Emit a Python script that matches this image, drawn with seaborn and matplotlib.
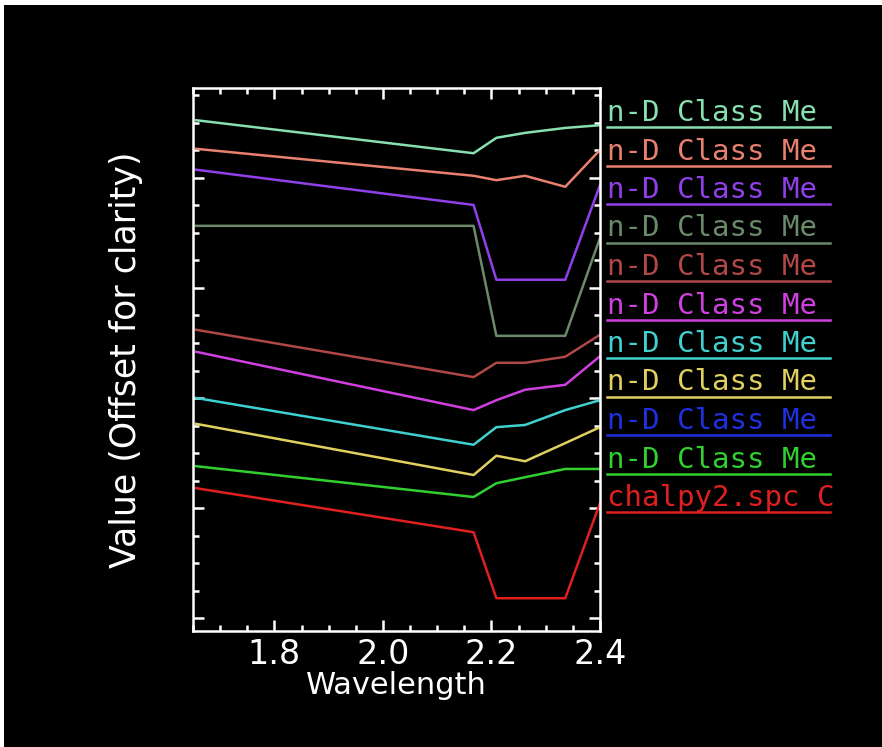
import numpy as np
import pandas as pd
import matplotlib
matplotlib.use("Agg")
from matplotlib import pyplot as plt
from matplotlib.lines import Line2D
from matplotlib.patches import Rectangle
from matplotlib.ticker import MultipleLocator
import seaborn as sns

# band centres (ASTER SWIR) and offset spectra, top to bottom
wavelength = [1.656, 2.167, 2.209, 2.262, 2.336, 2.400]

names = ["n-D Class Me"] * 10 + ["chalpy2.spc C"]
colors = ["#88e0b0", "#e88070", "#9040e8", "#6a8a6a", "#b04848", "#d040e0",
          "#40d0d0", "#e0d060", "#2030e0", "#30d030", "#e02020"]

s1 = [0.905, 0.845, 0.873, 0.882, 0.891, 0.896]
s2 = [0.853, 0.804, 0.796, 0.804, 0.784, 0.851]
s3 = [0.815, 0.751, 0.615, 0.615, 0.615, 0.787]
s4 = [0.713, 0.713, 0.513, 0.513, 0.513, 0.691]
s5 = [0.524, 0.438, 0.464, 0.464, 0.475, 0.515]
s6 = [0.484, 0.378, 0.396, 0.415, 0.424, 0.476]
s7 = [0.400, 0.315, 0.347, 0.351, 0.378, 0.396]
s8 = [0.353, 0.260, 0.295, 0.285, 0.318, 0.347]
s9 = None  # blue class: not visible in the plot area
s10 = [0.276, 0.220, 0.245, 0.256, 0.271, 0.271]
s11 = [0.236, 0.156, 0.036, 0.036, 0.036, 0.209]
series = [s1, s2, s3, s4, s5, s6, s7, s8, s9, s10, s11]

rows = []
for i, s in enumerate(series):
    if s is None:
        continue
    for w, v in zip(wavelength, s):
        rows.append({"id": i, "wavelength": w, "value": v})
df = pd.DataFrame(rows)
ids = sorted(set(df["id"]))
palette = {i: colors[i] for i in ids}

W, H = 882, 747
fig = plt.figure(figsize=(W / 100, H / 100), dpi=100, facecolor="white")
fig.add_artist(Rectangle((4 / W, 0), 1, (H - 5) / H, transform=fig.transFigure,
                         facecolor="black", edgecolor="none", zorder=-10))

ax = fig.add_axes([193 / W, 1 - 631 / H, (600 - 193) / W, (631 - 88) / H])
ax.set_facecolor("black")

sns.lineplot(data=df, x="wavelength", y="value", hue="id", hue_order=ids,
             palette=palette, linewidth=1.8, legend=False, ax=ax)

ax.set_xlim(1.65, 2.40)
ax.set_ylim(-0.0236, 0.9636)
ax.xaxis.set_major_locator(MultipleLocator(0.2))
ax.xaxis.set_minor_locator(MultipleLocator(0.05))
ax.yaxis.set_major_locator(MultipleLocator(0.2))
ax.yaxis.set_minor_locator(MultipleLocator(0.05))
ax.tick_params(which="both", direction="in", colors="white", top=True, right=True,
               width=1.8, labelleft=False, labelsize=24, pad=5)
ax.tick_params(which="major", length=8)
ax.tick_params(which="minor", length=4)
for sp in ax.spines.values():
    sp.set_color("white")
    sp.set_linewidth(1.8)

ax.set_xlabel("Wavelength", color="white", fontsize=22, labelpad=0)
ax.set_ylabel("Value (Offset for clarity)", color="white", fontsize=25, labelpad=36)

# legend drawn IDL style: label with a line beneath it
for i, (name, c) in enumerate(zip(names, colors)):
    ly = 127 + 38.5 * i
    fig.add_artist(Line2D([607 / W, 830 / W], [1 - ly / H, 1 - ly / H],
                          transform=fig.transFigure, color=c, linewidth=1.8))
    fig.text(607 / W, 1 - (ly - 6) / H, name, color=c, fontsize=21,
             family="DejaVu Sans Mono", ha="left", va="baseline")

fig.savefig("out.png", dpi=100, facecolor=fig.get_facecolor())
